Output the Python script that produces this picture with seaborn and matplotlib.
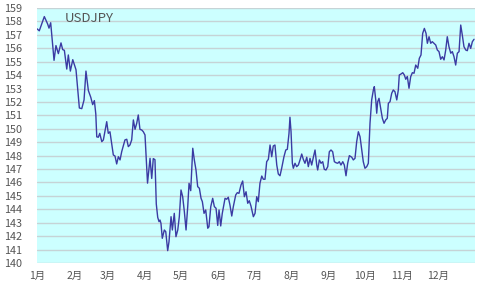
import pandas as pd
import numpy as np
import matplotlib
matplotlib.use("Agg")
import matplotlib.pyplot as plt
import seaborn as sns

# Day of year (0 = Jan 1) and USDJPY closing values
days = [0, 1.9, 6.1, 8.9, 10, 11.4, 14.2, 15.8, 17.8, 20, 21.4, 22.8, 24.8, 26.1, 27.8, 29.8, 32.5,
        35.3, 37.3, 39.2, 40.8, 42.8, 44.8, 46.4, 47.8, 49, 49.8, 51.1, 52.3, 54, 55.3, 58.1, 59.4,
        60.8, 63.6, 65, 66.4, 67.8, 69.2, 70.6, 73.3, 74.8, 76.1, 77.5, 78.9, 80.3, 81.7, 83.1, 84.4,
        85.8, 87.3, 88.6, 90, 92.1, 94.2, 95.6, 96.9, 98.3, 99.4, 100.6, 101.7, 102.5, 103.3, 104.4,
        106.1, 107.3, 108.9, 110, 111.7, 112.8, 114.4, 115.8, 117.3, 118.6, 120, 121.4, 122.8, 124.2,
        125.6, 126.7, 128.1, 129.8, 131.1, 132.5, 133.9, 135.3, 136.7, 137.8, 139.2, 140.6, 142.3,
        143.3, 144.8, 146.4, 147.8, 149.2, 150.6, 151.7, 153.1, 154.4, 156.7, 158.1, 159.4, 160.8,
        162.3, 163.6, 165.6, 166.9, 168.3, 170, 171.4, 172.8, 174.2, 175.6, 176.9, 178.3, 180.3,
        181.7, 183.1, 184.4, 185.8, 187.3, 188.6, 190, 191.4, 192.8, 194.2, 195.6, 196.9, 198.3,
        199.8, 201.1, 202.5, 203.9, 205.8, 207.3, 208.6, 210, 210.8, 211.7, 212.8, 213.6, 215, 216.4,
        217.8, 219.2, 220.6, 221.9, 223.3, 224.8, 226.1, 227.5, 228.9, 230.3, 231.7, 233.1, 233.9,
        235.3, 236.7, 238.1, 239.4, 240.8, 242.3, 243.6, 245, 246.4, 247.8, 249.2, 250.6, 251.9,
        253.3, 254.8, 256.1, 257.5, 258.9, 260.3, 262.3, 263.6, 265, 266.4, 267.8, 269.2, 270.6,
        271.9, 273.3, 274.8, 276.1, 277.5, 278.9, 280.3, 281.1, 282.3, 283.1, 283.9, 285, 286.4,
        287.8, 289.2, 290.6, 291.9, 292.8, 294.2, 295.6, 296.9, 298.3, 299.8, 301.1, 301.9, 303.3,
        304.8, 306.1, 307.3, 308.6, 310, 311.4, 312.8, 314.2, 315.6, 317.3, 318.6, 320, 321.4, 322.8,
        324.2, 325.3, 326.7, 328.1, 329.4, 330.8, 332.3, 333.6, 335, 336.4, 337.8, 339.2, 340.6,
        341.9, 343.3, 344.8, 346.1, 347.5, 348.9, 350.3, 351.7, 353.1, 354.4, 355.8, 357.3, 358.6,
        360, 361.4, 362.8, 364.2]
rates = [157.45, 157.3, 158.36, 157.8, 157.5, 157.9, 155.1, 156.2, 155.6, 156.4, 155.9, 155.85,
         154.45, 155.5, 154.3, 155.15, 154.4, 151.55, 151.5, 152.15, 154.3, 152.85, 152.35, 151.8,
         152.1, 151.1, 149.4, 149.37, 149.66, 149.04, 149.17, 150.53, 149.66, 149.78, 148.05, 147.97,
         147.38, 147.92, 147.68, 148.3, 149.17, 149.22, 148.67, 148.8, 149.17, 150.66, 149.96, 150.41,
         151.03, 149.96, 149.91, 149.78, 149.54, 145.95, 147.8, 146.3, 147.78, 147.7, 144.4, 143.4,
         143.08, 143.2, 142.96, 141.84, 142.46, 142.33, 140.92, 141.59, 143.45, 142.46, 143.7, 141.96,
         142.46, 143.45, 145.44, 144.94, 143.82, 142.46, 144.2, 145.94, 145.39, 148.55, 147.68,
         146.93, 145.69, 145.57, 144.82, 144.57, 143.7, 143.95, 142.59, 142.7, 144.2, 144.82, 144.2,
         144.08, 142.8, 143.95, 142.76, 143.7, 144.82, 144.75, 144.9, 144.32, 143.5, 144.2, 145.07,
         145.24, 145.19, 145.81, 146.11, 144.94, 145.31, 144.45, 144.64, 144.25, 143.45, 143.7,
         144.94, 144.57, 145.94, 146.48, 146.24, 146.24, 147.55, 147.73, 148.79, 147.92, 148.72,
         148.79, 147.3, 146.63, 146.5, 147.06, 147.92, 148.42, 148.47, 149.66, 150.86, 149.78, 147.43,
         147.06, 147.43, 147.18, 147.3, 147.68, 148.12, 147.73, 147.43, 147.88, 147.18, 147.8, 147.3,
         147.88, 148.42, 147.3, 146.93, 147.68, 147.43, 147.55, 146.98, 146.93, 147.18, 148.29,
         148.42, 148.29, 147.55, 147.47, 147.43, 147.55, 147.3, 147.55, 147.3, 146.5, 147.43, 148.0,
         147.88, 147.68, 147.8, 149.04, 149.78, 149.41, 148.42, 147.55, 147.06, 147.18, 147.43,
         150.41, 152.15, 152.89, 153.14, 152.15, 151.16, 152.02, 152.27, 151.53, 150.78, 150.41,
         150.66, 150.78, 151.9, 152.02, 152.65, 152.89, 152.76, 152.15, 152.89, 154.01, 154.08,
         154.18, 154.01, 153.69, 153.9, 153.02, 153.88, 154.18, 154.14, 154.75, 154.51, 155.25,
         155.5, 157.11, 157.48, 157.11, 156.37, 156.86, 156.37, 156.49, 156.37, 156.24, 155.87,
         155.75, 155.18, 155.37, 155.13, 155.87, 156.86, 156.12, 155.63, 155.75, 155.37, 154.75,
         155.63, 155.75, 157.73, 156.99, 156.12, 155.87, 155.82, 156.37, 155.99, 156.49, 156.67]
month_labels = ["1月", "2月", "3月", "4月", "5月", "6月", "7月", "8月", "9月", "10月", "11月", "12月"]
title = "USDJPY"

start = pd.Timestamp("2025-01-01")
df = pd.DataFrame({"date": start + pd.to_timedelta(days, unit="D"), "rate": rates})

sns.set_theme(style="white")
plt.rcParams["font.family"] = ["Noto Sans CJK JP", "DejaVu Sans"]

fig = plt.figure(figsize=(4.8, 2.88), dpi=100)
ax = fig.add_axes([37 / 480, 1 - 263 / 288, 438 / 480, 255 / 288])
ax.set_facecolor("#ccffff")

sns.lineplot(data=df, x="date", y="rate", ax=ax, color="#3b3ba3", linewidth=1.0)

ax.set_xlim(start, pd.Timestamp("2026-01-01"))
ax.set_ylim(140, 159)
ax.set_yticks(np.arange(140, 160, 1))
ax.yaxis.grid(True, color="#c6d3d6", linewidth=1.0)
ax.xaxis.grid(False)
ax.set_axisbelow(True)

ticks = pd.date_range(start, periods=12, freq="MS")
ax.set_xticks(ticks)
ax.set_xticklabels(month_labels)

for s in ax.spines.values():
    s.set_visible(False)
ax.tick_params(axis="y", length=0, pad=11, labelsize=7.8, labelcolor="#555555")
ax.tick_params(axis="x", length=0, pad=6, labelsize=7.5, labelcolor="#555555")
ax.set_xlabel("")
ax.set_ylabel("")

ax.text(28 / 438, 0.985, title, transform=ax.transAxes, ha="left", va="top",
        fontsize=9.5, color="#555555")

fig.savefig("out.png", dpi=100)
